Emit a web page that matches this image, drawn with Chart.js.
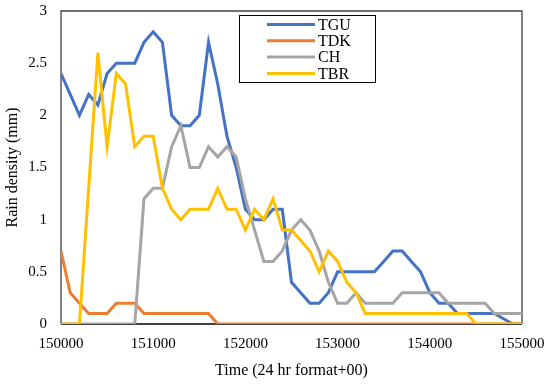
<!DOCTYPE html>
<html>
<head>
<meta charset="utf-8">
<script src="https://cdn.jsdelivr.net/npm/chart.js@4.4.1/dist/chart.umd.min.js"></script>
<style>
  body { margin: 0; background: #fff; }
  #wrap { width: 550px; height: 385px; }
</style>
</head>
<body>
<div id="wrap"><canvas id="rain-chart"></canvas></div>
<script>
// Time stamps (HHMMSS), one reading per minute
const times = [
  150000, 150100, 150200, 150300, 150400, 150500, 150600, 150700, 150800, 150900,
  151000, 151100, 151200, 151300, 151400, 151500, 151600, 151700, 151800, 151900,
  152000, 152100, 152200, 152300, 152400, 152500, 152600, 152700, 152800, 152900,
  153000, 153100, 153200, 153300, 153400, 153500, 153600, 153700, 153800, 153900,
  154000, 154100, 154200, 154300, 154400, 154500, 154600, 154700, 154800, 154900,
  155000
];

// Rain density (mm) per station
const tgu = [
  2.4, 2.2, 2.0, 2.2, 2.1, 2.4, 2.5, 2.5, 2.5, 2.7,
  2.8, 2.7, 2.0, 1.9, 1.9, 2.0, 2.7, 2.3, 1.8, 1.5,
  1.1, 1.0, 1.0, 1.1, 1.1, 0.4, 0.3, 0.2, 0.2, 0.3,
  0.5, 0.5, 0.5, 0.5, 0.5, 0.6, 0.7, 0.7, 0.6, 0.5,
  0.3, 0.2, 0.2, 0.1, 0.1, 0.1, 0.1, 0.1, 0.05, 0,
  0
];
const tdk = [
  0.7, 0.3, 0.2, 0.1, 0.1, 0.1, 0.2, 0.2, 0.2, 0.1,
  0.1, 0.1, 0.1, 0.1, 0.1, 0.1, 0.1, 0, 0, 0,
  0, 0, 0, 0, 0, 0, 0, 0, 0, 0,
  0, 0, 0, 0, 0, 0, 0, 0, 0, 0,
  0, 0, 0, 0, 0, 0, 0, 0, 0, 0,
  0
];
const ch = [
  0, 0, 0, 0, 0, 0, 0, 0, 0, 1.2,
  1.3, 1.3, 1.7, 1.9, 1.5, 1.5, 1.7, 1.6, 1.7, 1.6,
  1.2, 0.9, 0.6, 0.6, 0.7, 0.9, 1.0, 0.9, 0.7, 0.4,
  0.2, 0.2, 0.3, 0.2, 0.2, 0.2, 0.2, 0.3, 0.3, 0.3,
  0.3, 0.3, 0.2, 0.2, 0.2, 0.2, 0.2, 0.1, 0.1, 0.1,
  0.1
];
const tbr = [
  0, 0, 0, 1.3, 2.6, 1.7, 2.4, 2.3, 1.7, 1.8,
  1.8, 1.3, 1.1, 1.0, 1.1, 1.1, 1.1, 1.3, 1.1, 1.1,
  0.9, 1.1, 1.0, 1.2, 0.9, 0.9, 0.8, 0.7, 0.5, 0.7,
  0.6, 0.4, 0.3, 0.1, 0.1, 0.1, 0.1, 0.1, 0.1, 0.1,
  0.1, 0.1, 0.1, 0.1, 0.1, 0, 0, 0, 0, 0,
  0
];

const seriesNames = ["TGU", "TDK", "CH", "TBR"];
const seriesColors = ["#4472C4", "#ED7D31", "#A5A5A5", "#FFC000"];
const seriesValues = [tgu, tdk, ch, tbr];

const serif = "'Liberation Serif', 'Times New Roman', serif";

// khung vùng vẽ (viền trên/phải xám đậm, trục dưới đen)
const framePlugin = {
  id: "frame",
  beforeDatasetsDraw(chart) {
    const { ctx, chartArea: a } = chart;
    ctx.save();
    ctx.strokeStyle = "#404040";
    ctx.lineWidth = 1.3;
    ctx.beginPath();
    ctx.moveTo(a.left, a.bottom);
    ctx.lineTo(a.left, a.top);
    ctx.lineTo(a.right, a.top);
    ctx.lineTo(a.right, a.bottom);
    ctx.stroke();
    ctx.strokeStyle = "#000";
    ctx.beginPath();
    ctx.moveTo(a.left, a.bottom);
    ctx.lineTo(a.right, a.bottom);
    ctx.stroke();
    ctx.restore();
  }
};

// chú thích có khung, đặt trong vùng vẽ
const boxLegend = {
  id: "boxLegend",
  afterDraw(chart) {
    const { ctx, chartArea: a } = chart;
    const x = a.left + 178, y = a.top + 4, w = 136, h = 67;
    ctx.save();
    ctx.fillStyle = "#fff";
    ctx.fillRect(x, y, w, h);
    ctx.strokeStyle = "#000";
    ctx.lineWidth = 1;
    ctx.strokeRect(x + 0.5, y + 0.5, w, h);
    ctx.font = "16px " + serif;
    ctx.textBaseline = "middle";
    ctx.fillStyle = "#000";
    seriesNames.forEach((name, i) => {
      const ry = y + 9.5 + i * 16.3;
      ctx.strokeStyle = seriesColors[i];
      ctx.lineWidth = 3;
      ctx.beginPath();
      ctx.moveTo(x + 28, ry);
      ctx.lineTo(x + 76, ry);
      ctx.stroke();
      ctx.fillText(name, x + 79, ry + 1);
    });
    ctx.restore();
  }
};

const ctx = document.getElementById("rain-chart").getContext("2d");
const rainChart = new Chart(ctx, {
  type: "line",
  data: {
    datasets: seriesNames.map((name, i) => ({
      label: name,
      data: times.map((t, j) => ({ x: t, y: seriesValues[i][j] })),
      borderColor: seriesColors[i],
      backgroundColor: seriesColors[i],
      borderWidth: 3,
      pointRadius: 0,
      tension: 0,
      order: 4 - i
    }))
  },
  options: {
    responsive: true,
    maintainAspectRatio: false,
    animation: false,
    layout: { padding: { top: 11, right: 28, left: 0, bottom: 0 } },
    plugins: {
      legend: { display: false },
      tooltip: { enabled: false }
    },
    scales: {
      x: {
        type: "linear",
        min: 150000,
        max: 155000,
        grid: { display: false, drawTicks: false },
        border: { display: false },
        ticks: {
          stepSize: 1000,
          padding: 11,
          color: "#000",
          font: { family: serif, size: 15 },
          callback: v => String(v)
        },
        title: {
          display: true,
          text: "Time (24 hr format+00)",
          color: "#000",
          font: { family: serif, size: 16 },
          padding: { top: 0, bottom: 5 }
        },
        afterFit: s => {
          s.height = 61;
          s.paddingLeft = 0;
          s.paddingRight = 0;
        }
      },
      y: {
        min: 0,
        max: 3,
        grid: { display: false, drawTicks: false },
        border: { display: false },
        ticks: {
          stepSize: 0.5,
          padding: 14,
          color: "#000",
          font: { family: serif, size: 15 },
          callback: v => String(v)
        },
        title: {
          display: true,
          text: "Rain density (mm)",
          color: "#000",
          font: { family: serif, size: 16 },
          padding: { top: 3, bottom: 0 }
        },
        afterFit: s => {
          s.width = 61;
          s.paddingTop = 0;
          s.paddingBottom = 0;
        }
      }
    }
  },
  plugins: [framePlugin, boxLegend]
});
</script>
</body>
</html>
